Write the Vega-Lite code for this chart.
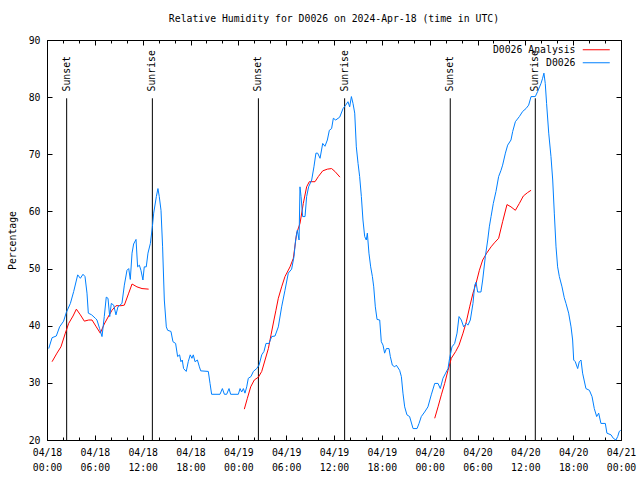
{
"$schema":"https://vega.github.io/schema/vega-lite/v6.json",
"width":574,"height":400,"autosize":"none",
"padding":{"left":47,"top":40,"right":19,"bottom":40},
"background":"white",
"title":{"text":"Relative Humidity for D0026 on 2024-Apr-18 (time in UTC)","font":"DejaVu Sans Mono","fontSize":9.8,"fontWeight":"normal","color":"black","offset":11,"anchor":"middle"},
"config":{"view":{"stroke":"black","strokeWidth":1},
 "axis":{"domain":false,"grid":false,"labelFont":"DejaVu Sans Mono","labelFontSize":9.8,"labelColor":"black","tickColor":"black","tickWidth":1,"titleFont":"DejaVu Sans Mono","titleFontSize":9.8,"titleFontWeight":"normal","titleColor":"black","labelFlush":false,"labelOverlap":false,"labelBound":false}},
"datasets":{
"obs":[
{"t":"2024-04-18T00:13Z","v":36.0},{"t":"2024-04-18T00:38Z","v":37.9},{"t":"2024-04-18T01:10Z","v":38.2},{"t":"2024-04-18T01:35Z","v":39.8},{"t":"2024-04-18T02:05Z","v":40.8},{"t":"2024-04-18T02:25Z","v":42.3},{"t":"2024-04-18T02:56Z","v":43.9},{"t":"2024-04-18T03:21Z","v":46.0},{"t":"2024-04-18T03:51Z","v":48.9},{"t":"2024-04-18T04:11Z","v":48.3},{"t":"2024-04-18T04:31Z","v":49.0},{"t":"2024-04-18T04:46Z","v":48.6},{"t":"2024-04-18T05:01Z","v":45.7},{"t":"2024-04-18T05:11Z","v":42.2},{"t":"2024-04-18T05:36Z","v":41.9},{"t":"2024-04-18T06:04Z","v":41.3},{"t":"2024-04-18T06:16Z","v":41.0},{"t":"2024-04-18T06:36Z","v":39.5},{"t":"2024-04-18T06:54Z","v":38.1},{"t":"2024-04-18T07:11Z","v":41.6},{"t":"2024-04-18T07:26Z","v":45.0},{"t":"2024-04-18T07:39Z","v":44.8},{"t":"2024-04-18T07:52Z","v":41.6},{"t":"2024-04-18T08:04Z","v":43.9},{"t":"2024-04-18T08:22Z","v":43.6},{"t":"2024-04-18T08:39Z","v":41.9},{"t":"2024-04-18T08:54Z","v":43.3},{"t":"2024-04-18T09:24Z","v":43.9},{"t":"2024-04-18T09:42Z","v":47.1},{"t":"2024-04-18T10:02Z","v":49.7},{"t":"2024-04-18T10:15Z","v":50.0},{"t":"2024-04-18T10:27Z","v":48.1},{"t":"2024-04-18T10:40Z","v":52.7},{"t":"2024-04-18T10:52Z","v":54.3},{"t":"2024-04-18T11:10Z","v":55.1},{"t":"2024-04-18T11:22Z","v":50.3},{"t":"2024-04-18T11:35Z","v":50.6},{"t":"2024-04-18T11:47Z","v":49.7},{"t":"2024-04-18T12:02Z","v":48.0},{"t":"2024-04-18T12:12Z","v":50.3},{"t":"2024-04-18T12:27Z","v":50.3},{"t":"2024-04-18T12:40Z","v":52.7},{"t":"2024-04-18T12:58Z","v":54.4},{"t":"2024-04-18T13:13Z","v":57.3},{"t":"2024-04-18T13:23Z","v":59.7},{"t":"2024-04-18T13:43Z","v":62.6},{"t":"2024-04-18T13:55Z","v":64.0},{"t":"2024-04-18T14:05Z","v":62.6},{"t":"2024-04-18T14:18Z","v":60.2},{"t":"2024-04-18T14:30Z","v":53.8},{"t":"2024-04-18T14:43Z","v":44.5},{"t":"2024-04-18T14:58Z","v":39.8},{"t":"2024-04-18T15:08Z","v":39.2},{"t":"2024-04-18T15:33Z","v":39.0},{"t":"2024-04-18T15:48Z","v":37.2},{"t":"2024-04-18T16:08Z","v":36.9},{"t":"2024-04-18T16:23Z","v":34.6},{"t":"2024-04-18T16:38Z","v":34.9},{"t":"2024-04-18T16:48Z","v":33.7},{"t":"2024-04-18T16:58Z","v":34.0},{"t":"2024-04-18T17:08Z","v":32.5},{"t":"2024-04-18T17:28Z","v":32.0},{"t":"2024-04-18T17:43Z","v":33.7},{"t":"2024-04-18T17:58Z","v":34.9},{"t":"2024-04-18T18:11Z","v":34.3},{"t":"2024-04-18T18:21Z","v":34.9},{"t":"2024-04-18T18:34Z","v":33.7},{"t":"2024-04-18T18:52Z","v":34.0},{"t":"2024-04-18T19:07Z","v":32.8},{"t":"2024-04-18T19:17Z","v":32.1},{"t":"2024-04-18T20:14Z","v":32.0},{"t":"2024-04-18T20:27Z","v":29.9},{"t":"2024-04-18T20:39Z","v":28.0},{"t":"2024-04-18T21:42Z","v":28.0},{"t":"2024-04-18T22:00Z","v":29.0},{"t":"2024-04-18T22:15Z","v":28.0},{"t":"2024-04-18T22:32Z","v":28.0},{"t":"2024-04-18T22:50Z","v":29.0},{"t":"2024-04-18T23:02Z","v":28.0},
{"t":"2024-04-19T00:00Z","v":28.0},{"t":"2024-04-19T00:13Z","v":29.0},{"t":"2024-04-19T00:25Z","v":28.4},{"t":"2024-04-19T00:38Z","v":29.0},{"t":"2024-04-19T00:50Z","v":28.2},{"t":"2024-04-19T01:03Z","v":29.3},{"t":"2024-04-19T01:15Z","v":30.8},{"t":"2024-04-19T01:35Z","v":31.1},{"t":"2024-04-19T01:53Z","v":32.0},{"t":"2024-04-19T02:18Z","v":32.5},{"t":"2024-04-19T02:36Z","v":33.1},{"t":"2024-04-19T02:56Z","v":34.9},{"t":"2024-04-19T03:13Z","v":35.5},{"t":"2024-04-19T03:28Z","v":36.9},{"t":"2024-04-19T03:51Z","v":36.9},{"t":"2024-04-19T04:11Z","v":38.1},{"t":"2024-04-19T04:36Z","v":38.2},{"t":"2024-04-19T05:01Z","v":39.8},{"t":"2024-04-19T05:26Z","v":43.3},{"t":"2024-04-19T05:51Z","v":46.2},{"t":"2024-04-19T06:16Z","v":49.2},{"t":"2024-04-19T06:41Z","v":49.9},{"t":"2024-04-19T06:59Z","v":52.1},{"t":"2024-04-19T07:11Z","v":55.0},{"t":"2024-04-19T07:24Z","v":56.7},{"t":"2024-04-19T07:37Z","v":55.0},{"t":"2024-04-19T07:44Z","v":64.3},{"t":"2024-04-19T07:52Z","v":62.6},{"t":"2024-04-19T08:04Z","v":59.1},{"t":"2024-04-19T08:22Z","v":59.1},{"t":"2024-04-19T08:34Z","v":62.6},{"t":"2024-04-19T08:49Z","v":64.3},{"t":"2024-04-19T09:12Z","v":65.5},{"t":"2024-04-19T09:29Z","v":67.8},{"t":"2024-04-19T09:44Z","v":70.2},{"t":"2024-04-19T09:57Z","v":70.2},{"t":"2024-04-19T10:15Z","v":69.3},{"t":"2024-04-19T10:35Z","v":71.9},{"t":"2024-04-19T10:52Z","v":71.4},{"t":"2024-04-19T11:10Z","v":72.5},{"t":"2024-04-19T11:25Z","v":74.2},{"t":"2024-04-19T11:42Z","v":74.5},{"t":"2024-04-19T11:55Z","v":76.3},{"t":"2024-04-19T12:13Z","v":76.0},{"t":"2024-04-19T12:43Z","v":76.5},{"t":"2024-04-19T13:08Z","v":78.0},{"t":"2024-04-19T13:28Z","v":78.6},{"t":"2024-04-19T13:45Z","v":79.2},{"t":"2024-04-19T13:58Z","v":78.3},{"t":"2024-04-19T14:11Z","v":80.1},{"t":"2024-04-19T14:23Z","v":78.9},{"t":"2024-04-19T14:36Z","v":77.2},{"t":"2024-04-19T14:48Z","v":71.3},{"t":"2024-04-19T15:01Z","v":68.4},{"t":"2024-04-19T15:13Z","v":66.1},{"t":"2024-04-19T15:26Z","v":62.6},{"t":"2024-04-19T15:38Z","v":58.5},{"t":"2024-04-19T15:51Z","v":55.6},{"t":"2024-04-19T16:03Z","v":55.0},{"t":"2024-04-19T16:11Z","v":56.2},{"t":"2024-04-19T16:23Z","v":52.7},{"t":"2024-04-19T16:36Z","v":50.3},{"t":"2024-04-19T16:49Z","v":48.6},{"t":"2024-04-19T16:59Z","v":46.8},{"t":"2024-04-19T17:11Z","v":43.3},{"t":"2024-04-19T17:24Z","v":41.1},{"t":"2024-04-19T17:44Z","v":41.0},{"t":"2024-04-19T17:56Z","v":37.2},{"t":"2024-04-19T18:09Z","v":36.6},{"t":"2024-04-19T18:21Z","v":35.2},{"t":"2024-04-19T18:34Z","v":36.0},{"t":"2024-04-19T18:54Z","v":36.0},{"t":"2024-04-19T19:04Z","v":34.6},{"t":"2024-04-19T19:19Z","v":33.1},{"t":"2024-04-19T19:37Z","v":32.8},{"t":"2024-04-19T19:49Z","v":33.1},{"t":"2024-04-19T20:14Z","v":32.2},{"t":"2024-04-19T20:27Z","v":31.1},{"t":"2024-04-19T20:39Z","v":28.2},{"t":"2024-04-19T20:52Z","v":25.8},{"t":"2024-04-19T21:09Z","v":24.4},{"t":"2024-04-19T21:29Z","v":24.1},{"t":"2024-04-19T21:55Z","v":22.0},{"t":"2024-04-19T22:25Z","v":22.0},{"t":"2024-04-19T22:40Z","v":22.9},{"t":"2024-04-19T22:57Z","v":24.1},{"t":"2024-04-19T23:22Z","v":24.9},{"t":"2024-04-19T23:47Z","v":25.8},
{"t":"2024-04-20T00:12Z","v":27.9},{"t":"2024-04-20T00:38Z","v":29.9},{"t":"2024-04-20T01:03Z","v":29.9},{"t":"2024-04-20T01:20Z","v":29.0},{"t":"2024-04-20T01:40Z","v":30.8},{"t":"2024-04-20T02:00Z","v":31.7},{"t":"2024-04-20T02:18Z","v":32.5},{"t":"2024-04-20T02:30Z","v":34.3},{"t":"2024-04-20T02:48Z","v":36.3},{"t":"2024-04-20T03:08Z","v":36.9},{"t":"2024-04-20T03:26Z","v":38.7},{"t":"2024-04-20T03:41Z","v":41.6},{"t":"2024-04-20T03:58Z","v":41.0},{"t":"2024-04-20T04:16Z","v":39.8},{"t":"2024-04-20T04:36Z","v":40.4},{"t":"2024-04-20T04:48Z","v":40.1},{"t":"2024-04-20T05:06Z","v":41.0},{"t":"2024-04-20T05:26Z","v":43.9},{"t":"2024-04-20T05:39Z","v":47.1},{"t":"2024-04-20T05:49Z","v":47.6},{"t":"2024-04-20T06:01Z","v":45.9},{"t":"2024-04-20T06:26Z","v":45.9},{"t":"2024-04-20T06:39Z","v":48.0},{"t":"2024-04-20T06:59Z","v":52.1},{"t":"2024-04-20T07:17Z","v":55.0},{"t":"2024-04-20T07:29Z","v":57.3},{"t":"2024-04-20T07:42Z","v":59.1},{"t":"2024-04-20T07:59Z","v":61.4},{"t":"2024-04-20T08:19Z","v":63.5},{"t":"2024-04-20T08:39Z","v":66.1},{"t":"2024-04-20T08:57Z","v":67.2},{"t":"2024-04-20T09:09Z","v":68.1},{"t":"2024-04-20T09:30Z","v":70.2},{"t":"2024-04-20T09:47Z","v":71.6},{"t":"2024-04-20T10:12Z","v":72.5},{"t":"2024-04-20T10:25Z","v":74.0},{"t":"2024-04-20T10:45Z","v":75.7},{"t":"2024-04-20T11:15Z","v":76.6},{"t":"2024-04-20T11:40Z","v":77.5},{"t":"2024-04-20T12:05Z","v":78.0},{"t":"2024-04-20T12:25Z","v":78.6},{"t":"2024-04-20T12:43Z","v":80.1},{"t":"2024-04-20T13:15Z","v":80.1},{"t":"2024-04-20T13:33Z","v":81.0},{"t":"2024-04-20T13:58Z","v":82.4},{"t":"2024-04-20T14:10Z","v":83.3},{"t":"2024-04-20T14:20Z","v":84.2},{"t":"2024-04-20T14:30Z","v":82.4},{"t":"2024-04-20T14:40Z","v":78.9},{"t":"2024-04-20T14:56Z","v":73.7},{"t":"2024-04-20T15:13Z","v":69.6},{"t":"2024-04-20T15:26Z","v":65.5},{"t":"2024-04-20T15:38Z","v":59.7},{"t":"2024-04-20T15:51Z","v":53.8},{"t":"2024-04-20T16:03Z","v":50.3},{"t":"2024-04-20T16:16Z","v":48.6},{"t":"2024-04-20T16:36Z","v":46.8},{"t":"2024-04-20T16:53Z","v":44.9},{"t":"2024-04-20T17:06Z","v":43.9},{"t":"2024-04-20T17:26Z","v":42.2},{"t":"2024-04-20T17:44Z","v":39.8},{"t":"2024-04-20T17:56Z","v":37.5},{"t":"2024-04-20T18:04Z","v":34.0},{"t":"2024-04-20T18:16Z","v":33.7},{"t":"2024-04-20T18:34Z","v":32.5},{"t":"2024-04-20T18:46Z","v":33.7},{"t":"2024-04-20T18:59Z","v":34.0},{"t":"2024-04-20T19:11Z","v":31.7},{"t":"2024-04-20T19:36Z","v":29.0},{"t":"2024-04-20T20:02Z","v":28.7},{"t":"2024-04-20T20:22Z","v":27.6},{"t":"2024-04-20T20:39Z","v":25.5},{"t":"2024-04-20T20:57Z","v":24.1},{"t":"2024-04-20T21:12Z","v":24.7},{"t":"2024-04-20T21:29Z","v":22.9},{"t":"2024-04-20T22:02Z","v":22.9},{"t":"2024-04-20T22:14Z","v":21.2},{"t":"2024-04-20T22:45Z","v":20.9},{"t":"2024-04-20T23:02Z","v":20.3},{"t":"2024-04-20T23:22Z","v":20.0},{"t":"2024-04-20T23:35Z","v":20.6},{"t":"2024-04-20T23:47Z","v":21.5},{"t":"2024-04-20T23:58Z","v":21.7}
],
"ana":[
{"t":"2024-04-18T00:38Z","v":33.7,"d":1},{"t":"2024-04-18T01:15Z","v":35.2,"d":1},{"t":"2024-04-18T01:45Z","v":36.3,"d":1},{"t":"2024-04-18T02:18Z","v":38.7,"d":1},{"t":"2024-04-18T02:43Z","v":40.4,"d":1},{"t":"2024-04-18T03:16Z","v":41.7,"d":1},{"t":"2024-04-18T03:41Z","v":42.9,"d":1},{"t":"2024-04-18T04:11Z","v":41.9,"d":1},{"t":"2024-04-18T04:41Z","v":40.8,"d":1},{"t":"2024-04-18T05:14Z","v":41.0,"d":1},{"t":"2024-04-18T05:39Z","v":41.0,"d":1},{"t":"2024-04-18T06:11Z","v":39.8,"d":1},{"t":"2024-04-18T06:41Z","v":38.7,"d":1},{"t":"2024-04-18T07:11Z","v":40.3,"d":1},{"t":"2024-04-18T07:44Z","v":41.7,"d":1},{"t":"2024-04-18T08:09Z","v":42.7,"d":1},{"t":"2024-04-18T08:39Z","v":43.5,"d":1},{"t":"2024-04-18T09:17Z","v":43.5,"d":1},{"t":"2024-04-18T09:42Z","v":43.6,"d":1},{"t":"2024-04-18T10:15Z","v":45.7,"d":1},{"t":"2024-04-18T10:40Z","v":47.3,"d":1},{"t":"2024-04-18T11:17Z","v":46.8,"d":1},{"t":"2024-04-18T11:55Z","v":46.5,"d":1},{"t":"2024-04-18T12:45Z","v":46.4,"d":1},
{"t":"2024-04-19T00:45Z","v":25.4,"d":2},{"t":"2024-04-19T01:08Z","v":27.3,"d":2},{"t":"2024-04-19T01:33Z","v":29.3,"d":2},{"t":"2024-04-19T02:00Z","v":30.5,"d":2},{"t":"2024-04-19T02:31Z","v":31.0,"d":2},{"t":"2024-04-19T02:56Z","v":32.0,"d":2},{"t":"2024-04-19T03:21Z","v":34.0,"d":2},{"t":"2024-04-19T03:46Z","v":36.0,"d":2},{"t":"2024-04-19T04:06Z","v":38.4,"d":2},{"t":"2024-04-19T04:28Z","v":41.0,"d":2},{"t":"2024-04-19T04:43Z","v":42.7,"d":2},{"t":"2024-04-19T05:01Z","v":44.8,"d":2},{"t":"2024-04-19T05:26Z","v":46.8,"d":2},{"t":"2024-04-19T05:51Z","v":48.6,"d":2},{"t":"2024-04-19T06:29Z","v":50.3,"d":2},{"t":"2024-04-19T06:54Z","v":51.8,"d":2},{"t":"2024-04-19T07:19Z","v":56.2,"d":2},{"t":"2024-04-19T07:44Z","v":57.9,"d":2},{"t":"2024-04-19T08:09Z","v":61.4,"d":2},{"t":"2024-04-19T08:34Z","v":64.3,"d":2},{"t":"2024-04-19T08:54Z","v":65.2,"d":2},{"t":"2024-04-19T09:37Z","v":65.2,"d":2},{"t":"2024-04-19T10:02Z","v":66.1,"d":2},{"t":"2024-04-19T10:35Z","v":67.1,"d":2},{"t":"2024-04-19T11:10Z","v":67.4,"d":2},{"t":"2024-04-19T11:42Z","v":67.5,"d":2},{"t":"2024-04-19T12:07Z","v":67.0,"d":2},{"t":"2024-04-19T12:45Z","v":66.0,"d":2},
{"t":"2024-04-20T00:38Z","v":23.8,"d":3},{"t":"2024-04-20T01:03Z","v":25.8,"d":3},{"t":"2024-04-20T01:28Z","v":27.9,"d":3},{"t":"2024-04-20T01:53Z","v":29.9,"d":3},{"t":"2024-04-20T02:18Z","v":32.2,"d":3},{"t":"2024-04-20T02:43Z","v":34.3,"d":3},{"t":"2024-04-20T03:16Z","v":35.5,"d":3},{"t":"2024-04-20T03:41Z","v":36.6,"d":3},{"t":"2024-04-20T04:11Z","v":38.7,"d":3},{"t":"2024-04-20T04:36Z","v":40.7,"d":3},{"t":"2024-04-20T05:01Z","v":43.3,"d":3},{"t":"2024-04-20T05:26Z","v":45.7,"d":3},{"t":"2024-04-20T05:49Z","v":47.4,"d":3},{"t":"2024-04-20T06:14Z","v":49.7,"d":3},{"t":"2024-04-20T06:39Z","v":51.5,"d":3},{"t":"2024-04-20T07:09Z","v":52.7,"d":3},{"t":"2024-04-20T07:42Z","v":53.8,"d":3},{"t":"2024-04-20T08:07Z","v":54.5,"d":3},{"t":"2024-04-20T08:39Z","v":55.3,"d":3},{"t":"2024-04-20T09:09Z","v":58.2,"d":3},{"t":"2024-04-20T09:42Z","v":61.2,"d":3},{"t":"2024-04-20T10:12Z","v":60.8,"d":3},{"t":"2024-04-20T10:45Z","v":60.2,"d":3},{"t":"2024-04-20T11:15Z","v":61.4,"d":3},{"t":"2024-04-20T11:45Z","v":62.7,"d":3},{"t":"2024-04-20T12:17Z","v":63.3,"d":3},{"t":"2024-04-20T12:43Z","v":63.7,"d":3}
],
"sun":[
{"t":"2024-04-18T02:28Z","label":"Sunset"},{"t":"2024-04-18T13:13Z","label":"Sunrise"},{"t":"2024-04-19T02:31Z","label":"Sunset"},{"t":"2024-04-19T13:20Z","label":"Sunrise"},{"t":"2024-04-20T02:35Z","label":"Sunset"},{"t":"2024-04-20T13:15Z","label":"Sunrise"}
]
},
"resolve":{"axis":{"x":"independent","y":"independent"}},
"layer":[
{"data":{"name":"sun"},"mark":{"type":"rule","color":"black","strokeWidth":1},
 "encoding":{
  "x":{"field":"t","type":"temporal","axis":{"orient":"bottom","values":[1713398400000,1713405600000,1713412800000,1713420000000,1713427200000,1713434400000,1713441600000,1713448800000,1713456000000,1713463200000,1713470400000,1713477600000,1713484800000,1713492000000,1713499200000,1713506400000,1713513600000,1713520800000,1713528000000,1713535200000,1713542400000,1713549600000,1713556800000,1713564000000,1713571200000,1713578400000,1713585600000,1713592800000,1713600000000,1713607200000,1713614400000,1713621600000,1713628800000,1713636000000,1713643200000,1713650400000,1713657600000],"tickSize":-3,"labels":false,"title":null}},
  "y":{"datum":20,"type":"quantitative","axis":{"orient":"right","values":[20,30,40,50,60,70,80,90],"tickSize":-5,"labels":false,"title":null}},
  "y2":{"datum":79.8}}},
{"data":{"name":"sun"},"mark":{"type":"text","font":"DejaVu Sans Mono","fontSize":9.8,"color":"black","angle":270,"align":"left","baseline":"middle"},
 "encoding":{
  "x":{"field":"t","type":"temporal","axis":{"orient":"top","values":[1713398400000,1713420000000,1713441600000,1713463200000,1713484800000,1713506400000,1713528000000,1713549600000,1713571200000,1713592800000,1713614400000,1713636000000,1713657600000],"tickSize":-5,"labels":false,"title":null}},
  "y":{"datum":81,"type":"quantitative","axis":null},
  "text":{"field":"label"}}},
{"data":{"name":"ana"},"mark":{"type":"line","strokeWidth":1},
 "encoding":{
  "x":{"field":"t","type":"temporal","axis":{"orient":"top","values":[1713398400000,1713405600000,1713412800000,1713420000000,1713427200000,1713434400000,1713441600000,1713448800000,1713456000000,1713463200000,1713470400000,1713477600000,1713484800000,1713492000000,1713499200000,1713506400000,1713513600000,1713520800000,1713528000000,1713535200000,1713542400000,1713549600000,1713556800000,1713564000000,1713571200000,1713578400000,1713585600000,1713592800000,1713600000000,1713607200000,1713614400000,1713621600000,1713628800000,1713636000000,1713643200000,1713650400000,1713657600000],"tickSize":-3,"labels":false,"title":null}},
  "y":{"field":"v","type":"quantitative","axis":null},
  "detail":{"field":"d","type":"nominal"},
  "color":{"datum":"D0026 Analysis","scale":{"domain":["D0026 Analysis","D0026"],"range":["#ff0000","#0080ff"]},
   "legend":{"orient":"none","legendX":541.75,"legendY":2.25,"title":null,"symbolType":"M-2,0H2","symbolSize":182.25,"symbolStrokeWidth":1,"labelAlign":"right","labelOffset":-28.25,"labelFont":"DejaVu Sans Mono","labelFontSize":9.8,"labelColor":"black","rowPadding":-0.5,"padding":0,"labelLimit":300}}}},
{"data":{"name":"obs"},"mark":{"type":"line","strokeWidth":1},
 "encoding":{
  "x":{"field":"t","type":"temporal","scale":{"type":"utc","domain":[1713398400000,1713657600000],"nice":false},
   "axis":{"orient":"bottom","values":[1713398400000,1713420000000,1713441600000,1713463200000,1713484800000,1713506400000,1713528000000,1713549600000,1713571200000,1713592800000,1713614400000,1713636000000,1713657600000],"tickSize":-5,"labelPadding":12,"labelExpr":"[utcFormat(datum.value,'%m/%d'),utcFormat(datum.value,'%H:%M')]","labelLineHeight":15,"labelBaseline":"top","labelAlign":"center","title":null}},
  "y":{"field":"v","type":"quantitative","scale":{"domain":[20,90],"nice":false,"zero":false},
   "axis":{"orient":"left","values":[20,30,40,50,60,70,80,90],"tickSize":-5,"labelPadding":12,"title":"Percentage","titleX":-35,"titleY":200,"titleAngle":270,"titleBaseline":"middle","titleAlign":"center"}},
  "color":{"datum":"D0026","scale":{"domain":["D0026 Analysis","D0026"],"range":["#ff0000","#0080ff"]},
   "legend":{"orient":"none","legendX":541.75,"legendY":2.25,"title":null,"symbolType":"M-2,0H2","symbolSize":182.25,"symbolStrokeWidth":1,"labelAlign":"right","labelOffset":-28.25,"labelFont":"DejaVu Sans Mono","labelFontSize":9.8,"labelColor":"black","rowPadding":-0.5,"padding":0,"labelLimit":300}}}}
]
}
